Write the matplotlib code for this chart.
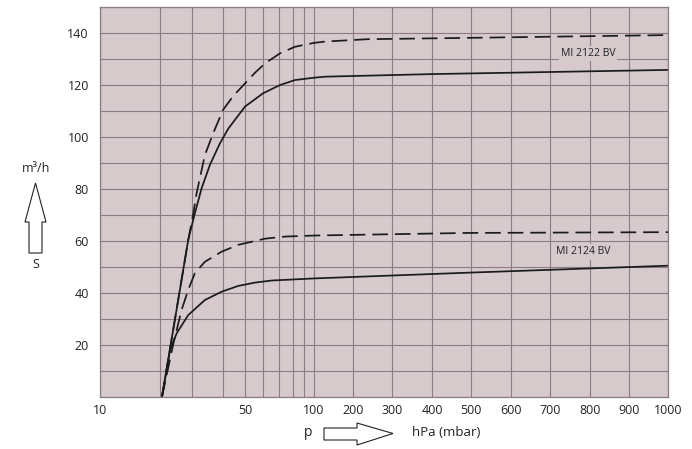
import numpy as np
import matplotlib
matplotlib.use("Agg")
import matplotlib.pyplot as plt
from matplotlib.patches import Polygon

plt.rcParams['font.family'] = ['Open Sans', 'DejaVu Sans']

# ---------------- data (pressure hPa, pumping speed m3/h) ----------------
p_2122_solid = [20.5, 28.6, 30.8, 32.8, 35.5, 38.9, 42.2, 50, 60, 70.7, 81.7, 100, 128, 402, 700, 1000]
s_2122_solid = [0, 60.4, 70.6, 80.3, 89.5, 97.6, 103.2, 111.7, 116.8, 120, 121.9, 122.8, 123.2, 124.2, 125, 125.8]

p_2122_dash = [20.5, 28.6, 30.4, 31.3, 33.8, 36.5, 40, 44.4, 50, 55.3, 61.2, 70.7, 81.7, 100, 128, 235, 572, 1000]
s_2122_dash = [0, 60.4, 70.8, 78.3, 93, 101.4, 110.4, 115.8, 120.6, 124.7, 128.3, 132.2, 134.7, 136.2, 136.7, 137.6, 138.3, 139.2]

p_2124_dash = [20.5, 23.7, 26.3, 28.6, 30.8, 33.8, 39.5, 46.6, 55.3, 61.2, 74.1, 100, 490, 1000]
s_2124_dash = [0, 20.6, 33.5, 41.2, 47.6, 52, 55.9, 58.5, 60.0, 60.9, 61.7, 62.1, 63.1, 63.4]

p_2124_solid = [20.5, 22.7, 24.7, 28.6, 33.8, 39.5, 46.6, 55.3, 65.2, 100, 489, 1000]
s_2124_solid = [0, 18, 24.5, 31.5, 37.3, 40.5, 42.7, 44, 44.8, 45.6, 47.8, 50.5]

x_tick_values = [10, 50, 100, 200, 300, 400, 500, 600, 700, 800, 900, 1000]
x_tick_labels = ["10", "50", "100", "200", "300", "400", "500", "600", "700", "800", "900", "1000"]
x_minor_values = [20, 30, 40, 60, 70, 80, 90]
y_tick_values = [20, 40, 60, 80, 100, 120, 140]
y_tick_labels = ["20", "40", "60", "80", "100", "120", "140"]

# ---------------- axis scale: log 10..100, linear 100..1000 ----------------
_log_knots = np.log10([10, 20, 30, 40, 50, 60, 70, 80, 90, 100])
_log_pos = np.array([100, 160, 192, 223, 245, 263, 279, 293, 304, 314], float)
_lin_knots = np.array([100, 200, 300, 400, 500, 600, 700, 800, 900, 1000], float)
_lin_pos = np.array([314, 353, 392, 432, 471, 511, 550, 590, 629, 668], float)


def _fwd(x):
    x = np.asarray(x, float)
    xs = np.clip(x, 1e-3, None)
    lx = np.log10(xs)
    lo = np.interp(lx, _log_knots, _log_pos)
    lo = np.where(lx < _log_knots[0], _log_pos[0] + (lx - _log_knots[0]) * 600, lo)
    hi = np.interp(x, _lin_knots, _lin_pos)
    hi = np.where(x > 1000, _lin_pos[-1] + (x - 1000) * 0.39, hi)
    return np.where(x <= 100, lo, hi)


def _inv(y):
    y = np.asarray(y, float)
    lo = 10 ** np.interp(y, _log_pos, _log_knots)
    lo = np.where(y < _log_pos[0], 10 ** (_log_knots[0] + (y - _log_pos[0]) / 600), lo)
    hi = np.interp(y, _lin_pos, _lin_knots)
    hi = np.where(y > _lin_pos[-1], 1000 + (y - _lin_pos[-1]) / 0.39, hi)
    return np.where(y <= 314, lo, hi)


W, H = 692, 449
fig = plt.figure(figsize=(W / 100, H / 100), dpi=100)
fig.patch.set_facecolor('white')
ax = fig.add_axes([100 / W, 1 - 397 / H, (668 - 100) / W, (397 - 7) / H])

bg = '#d6cacd'
gridc = '#8c7c82'
ax.set_facecolor(bg)
ax.set_xscale('function', functions=(_fwd, _inv))
ax.set_xlim(10, 1000)
ax.set_ylim(0, 150)

ax.set_xticks(x_tick_values)
ax.set_xticklabels(x_tick_labels)
ax.set_xticks(x_minor_values, minor=True)
ax.set_xticklabels([], minor=True)
ax.set_yticks(y_tick_values)
ax.set_yticklabels(y_tick_labels)
ax.set_yticks(np.arange(0, 151, 10), minor=True)

ax.grid(True, which='both', color=gridc, linewidth=0.8)
ax.set_axisbelow(True)
ax.tick_params(which='both', length=0, labelsize=9, colors='#222222')
ax.tick_params(axis='x', pad=5)
ax.tick_params(axis='y', pad=8)
for sp in ax.spines.values():
    sp.set_color(gridc)
    sp.set_linewidth(0.9)

lc = '#1a1a1a'
dash = (0, (9, 4))
ax.plot(p_2122_solid, s_2122_solid, color=lc, lw=1.25, solid_joinstyle='round')
ax.plot(p_2122_dash, s_2122_dash, color=lc, lw=1.25, linestyle=dash)
ax.plot(p_2124_dash, s_2124_dash, color=lc, lw=1.25, linestyle=dash)
ax.plot(p_2124_solid, s_2124_solid, color=lc, lw=1.25, solid_joinstyle='round')

ax.text(0.859, 0.880, "MI 2122 BV", transform=ax.transAxes, fontsize=7.5,
        color='#222222', ha='center', va='center',
        bbox=dict(facecolor=bg, edgecolor='none', pad=1.5))
ax.text(0.850, 0.372, "MI 2124 BV", transform=ax.transAxes, fontsize=7.5,
        color='#222222', ha='center', va='center',
        bbox=dict(facecolor=bg, edgecolor='none', pad=1.5))


def fpt(x, y):
    return (x / W, 1 - y / H)


# y-axis label and hollow up arrow
fig.text(*fpt(36, 168), "m³/h", fontsize=9, ha='center', va='center', color='#222222')
up = [(29, 253), (42, 253), (42, 222), (46, 222), (35.5, 183), (25, 222), (29, 222)]
fig.add_artist(Polygon([fpt(*p) for p in up], closed=True, facecolor='white',
                       edgecolor='#222222', lw=0.8, transform=fig.transFigure))
fig.text(*fpt(36, 265), "S", fontsize=9, ha='center', va='center', color='#222222')

# x-axis label and hollow right arrow
fig.text(*fpt(308, 433), "p", fontsize=10, ha='center', va='center', color='#222222')
right = [(324, 428), (357, 428), (357, 423), (393, 433.5), (357, 445), (357, 440), (324, 440)]
fig.add_artist(Polygon([fpt(*p) for p in right], closed=True, facecolor='white',
                       edgecolor='#222222', lw=0.8, transform=fig.transFigure))
fig.text(*fpt(446, 432), "hPa (mbar)", fontsize=9.5, ha='center', va='center', color='#222222')

fig.savefig("out.png", dpi=100)
